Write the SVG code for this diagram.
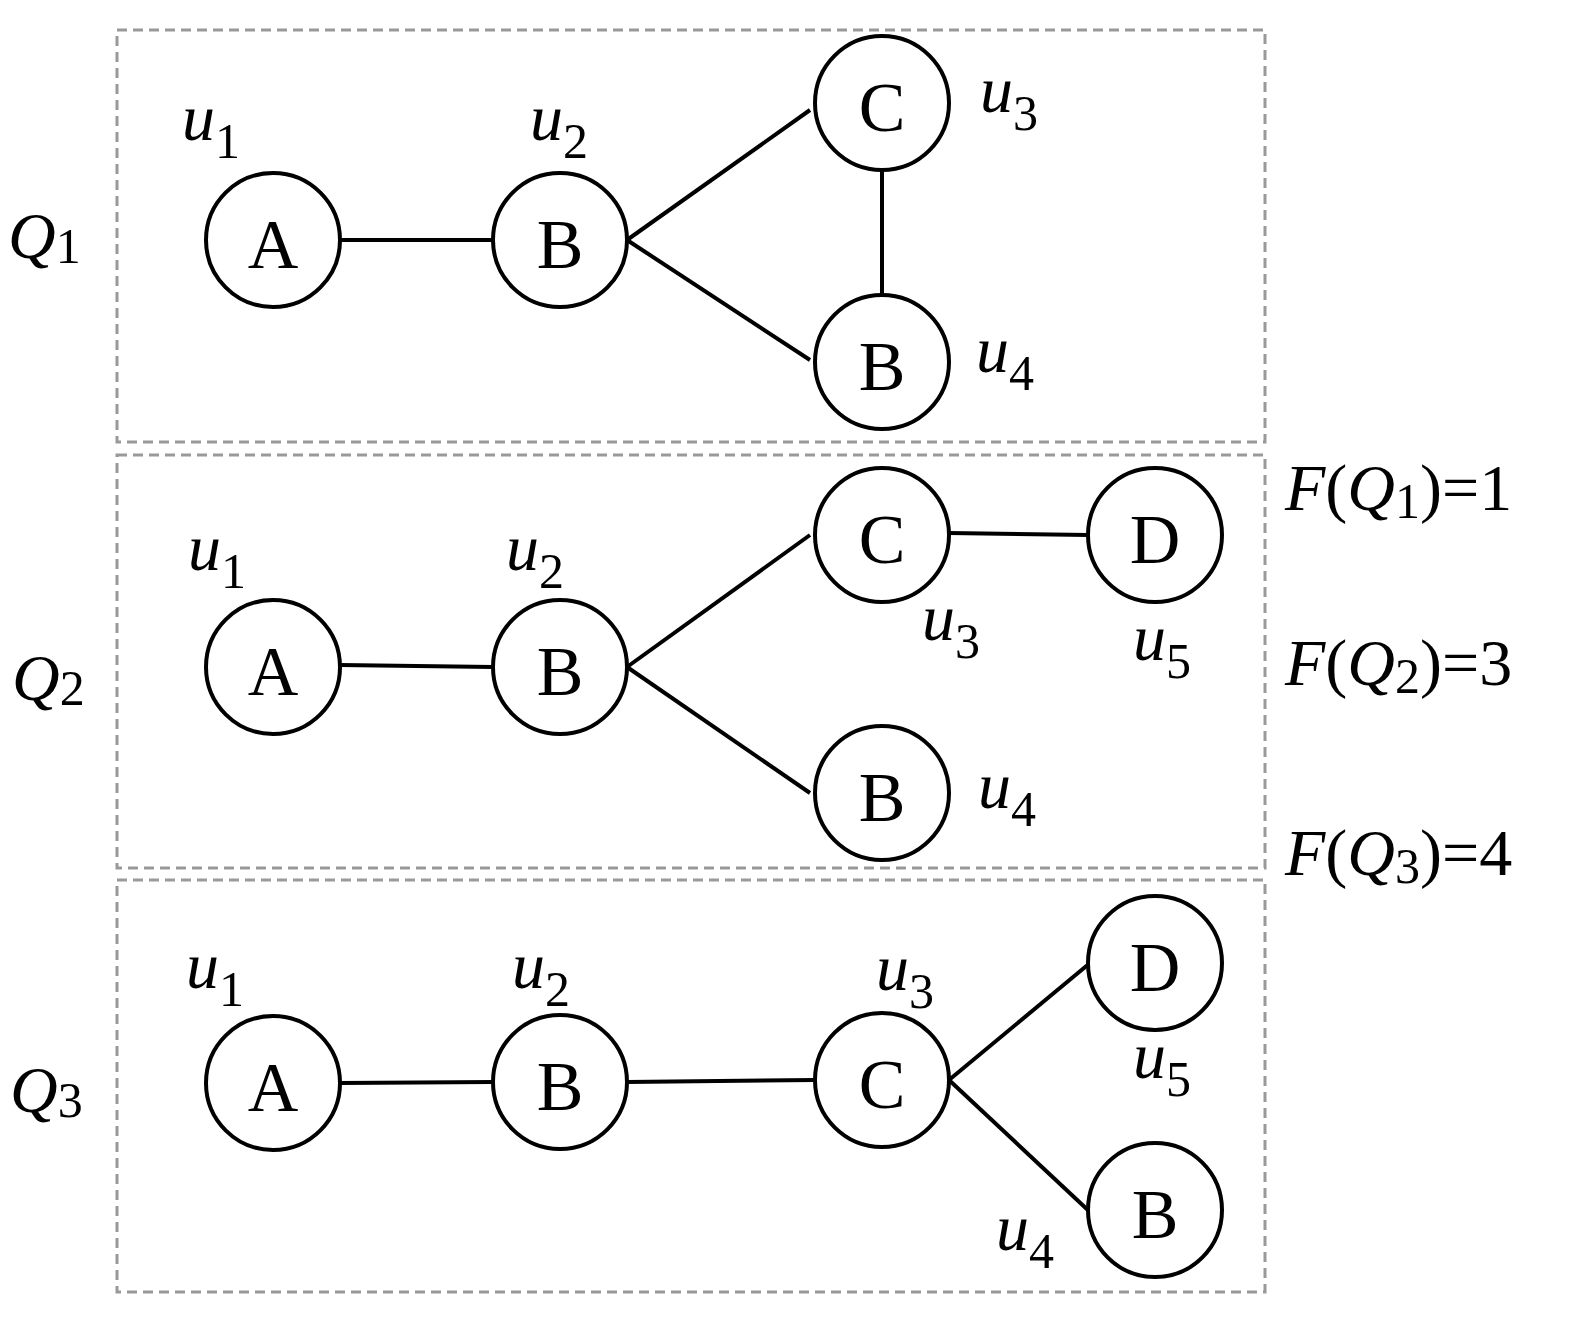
<svg xmlns="http://www.w3.org/2000/svg" width="1571" height="1320" viewBox="0 0 1571 1320">
<style>
.box{fill:none;stroke:#999;stroke-width:3;stroke-dasharray:10 6}
.n circle{fill:#fff;stroke:#000;stroke-width:4}
.n text{font-family:"Liberation Serif",serif;font-size:70px;text-anchor:middle}
.e line{stroke:#000;stroke-width:4}
.l{font-family:"Liberation Serif",serif;font-size:66px}
.i{font-style:italic}
.s{font-size:50px}
</style>
<rect x="0" y="0" width="1571" height="1320" fill="#fff"/>
<rect class="box" x="117" y="30" width="1148" height="412"/>
<rect class="box" x="117" y="455" width="1148" height="413"/>
<rect class="box" x="117" y="880" width="1148" height="412"/>
<g id="connectors" class="e">
<line x1="340" y1="240" x2="493" y2="240"/><line x1="627" y1="240" x2="810" y2="110"/><line x1="627" y1="240" x2="810" y2="360"/><line x1="882" y1="170" x2="882" y2="295"/>
<line x1="340" y1="665" x2="493" y2="667"/><line x1="627" y1="667" x2="810" y2="535"/><line x1="627" y1="667" x2="810" y2="793"/><line x1="949" y1="533" x2="1088" y2="535"/>
<line x1="340" y1="1083" x2="493" y2="1082"/><line x1="627" y1="1082" x2="815" y2="1080"/><line x1="949" y1="1080" x2="1090" y2="963"/><line x1="949" y1="1080" x2="1090" y2="1212"/>
</g>
<g id="q1a" class="n"><circle cx="273" cy="240" r="67"/><text x="273" y="268">A</text></g>
<g id="q1b" class="n"><circle cx="560" cy="240" r="67"/><text x="560" y="268">B</text></g>
<g id="q1c" class="n"><circle cx="882" cy="103" r="67"/><text x="882" y="131">C</text></g>
<g id="q1b2" class="n"><circle cx="882" cy="362" r="67"/><text x="882" y="390">B</text></g>
<g id="q2a" class="n"><circle cx="273" cy="667" r="67"/><text x="273" y="695">A</text></g>
<g id="q2b" class="n"><circle cx="560" cy="667" r="67"/><text x="560" y="695">B</text></g>
<g id="q2c" class="n"><circle cx="882" cy="535" r="67"/><text x="882" y="563">C</text></g>
<g id="q2d" class="n"><circle cx="1155" cy="535" r="67"/><text x="1155" y="563">D</text></g>
<g id="q2b2" class="n"><circle cx="882" cy="793" r="67"/><text x="882" y="821">B</text></g>
<g id="q3a" class="n"><circle cx="273" cy="1083" r="67"/><text x="273" y="1111">A</text></g>
<g id="q3b" class="n"><circle cx="560" cy="1082" r="67"/><text x="560" y="1110">B</text></g>
<g id="q3c" class="n"><circle cx="882" cy="1080" r="67"/><text x="882" y="1108">C</text></g>
<g id="q3d" class="n"><circle cx="1155" cy="963" r="67"/><text x="1155" y="991">D</text></g>
<g id="q3b2" class="n"><circle cx="1155" cy="1210" r="67"/><text x="1155" y="1238">B</text></g>
<g id="labels" class="l">
<text x="182" y="140"><tspan class="i">u</tspan><tspan class="s" dy="18">1</tspan></text>
<text x="530" y="140"><tspan class="i">u</tspan><tspan class="s" dy="18">2</tspan></text>
<text x="980" y="112"><tspan class="i">u</tspan><tspan class="s" dy="18">3</tspan></text>
<text x="976" y="372"><tspan class="i">u</tspan><tspan class="s" dy="18">4</tspan></text>
<text x="8" y="258"><tspan class="i">Q</tspan><tspan class="s" dy="5">1</tspan></text>
<text x="188" y="570"><tspan class="i">u</tspan><tspan class="s" dy="18">1</tspan></text>
<text x="506" y="570"><tspan class="i">u</tspan><tspan class="s" dy="18">2</tspan></text>
<text x="922" y="640"><tspan class="i">u</tspan><tspan class="s" dy="18">3</tspan></text>
<text x="1133" y="660"><tspan class="i">u</tspan><tspan class="s" dy="18">5</tspan></text>
<text x="978" y="808"><tspan class="i">u</tspan><tspan class="s" dy="18">4</tspan></text>
<text x="12" y="700"><tspan class="i">Q</tspan><tspan class="s" dy="5">2</tspan></text>
<text x="186" y="988"><tspan class="i">u</tspan><tspan class="s" dy="18">1</tspan></text>
<text x="512" y="988"><tspan class="i">u</tspan><tspan class="s" dy="18">2</tspan></text>
<text x="876" y="990"><tspan class="i">u</tspan><tspan class="s" dy="18">3</tspan></text>
<text x="1133" y="1078"><tspan class="i">u</tspan><tspan class="s" dy="18">5</tspan></text>
<text x="996" y="1250"><tspan class="i">u</tspan><tspan class="s" dy="18">4</tspan></text>
<text x="10" y="1112"><tspan class="i">Q</tspan><tspan class="s" dy="5">3</tspan></text>
<text x="1285" y="510"><tspan class="i">F</tspan>(<tspan class="i">Q</tspan><tspan class="s" dy="8">1</tspan><tspan dy="-8">)=1</tspan></text>
<text x="1285" y="685"><tspan class="i">F</tspan>(<tspan class="i">Q</tspan><tspan class="s" dy="8">2</tspan><tspan dy="-8">)=3</tspan></text>
<text x="1285" y="875"><tspan class="i">F</tspan>(<tspan class="i">Q</tspan><tspan class="s" dy="8">3</tspan><tspan dy="-8">)=4</tspan></text>
</g>
</svg>
